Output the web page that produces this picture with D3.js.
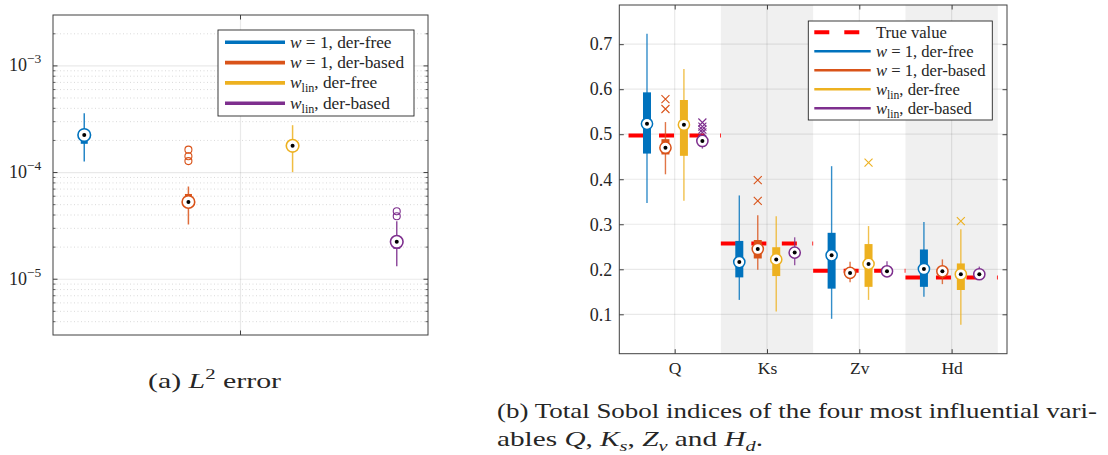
<!DOCTYPE html>
<html>
<head>
<meta charset="utf-8">
<script src="https://cdn.jsdelivr.net/npm/d3@7"></script>
<style>
  body { margin: 0; background: #fff; }
  svg { display: block; }
  text { font-family: "Liberation Serif", "DejaVu Serif", serif; fill: #262626; }
</style>
</head>
<body>
<svg id="fig" width="1108" height="455"></svg>
<script>
// ---- series (shared by both panels) ----
const seriesColors = ["#0072BD", "#D95319", "#EDB120", "#7E2F8E"];
const groupOffsets = [-0.3, -0.1, 0.1, 0.3];

// ---- panel (a): L2 error, one box per series ----
const l2Low    = [1.27e-4, 3.26e-5, 1.01e-4, 1.32e-5];
const l2Q1     = [1.86e-4, 4.9e-5, 1.62e-4, 1.93e-5];
const l2Median = [2.25e-4, 5.3e-5, 1.78e-4, 2.24e-5];
const l2Q3     = [2.35e-4, 6.3e-5, 2.02e-4, 2.5e-5];
const l2High   = [3.6e-4, 7.4e-5, 2.78e-4, 3.5e-5];
const l2Outliers = [[], [1.28e-4, 1.42e-4, 1.64e-4], [], [3.89e-5, 4.34e-5]];
const l2TickExponents = [-5, -4, -3];

// ---- panel (b): total Sobol indices, rows = series, columns = variables ----
const categories = ["Q", "Ks", "Zv", "Hd"];
const trueValues = [0.497, 0.257, 0.197, 0.182];
const sobolLow = [
  [0.347, 0.132, 0.090, 0.139],
  [0.411, 0.199, 0.171, 0.167],
  [0.352, 0.106, 0.132, 0.077],
  [0.468, 0.209, 0.185, 0.180]
];
const sobolQ1 = [
  [0.457, 0.182, 0.157, 0.161],
  [0.455, 0.224, 0.186, 0.186],
  [0.452, 0.185, 0.161, 0.154],
  [0.478, 0.230, 0.190, 0.184]
];
const sobolMedian = [
  [0.523, 0.216, 0.231, 0.2006],
  [0.470, 0.245, 0.192, 0.1955],
  [0.521, 0.222, 0.212, 0.189],
  [0.485, 0.237, 0.1955, 0.189]
];
const sobolQ3 = [
  [0.593, 0.263, 0.281, 0.244],
  [0.489, 0.265, 0.198, 0.203],
  [0.576, 0.249, 0.256, 0.213],
  [0.492, 0.247, 0.201, 0.195]
];
const sobolHigh = [
  [0.723, 0.364, 0.429, 0.305],
  [0.527, 0.320, 0.217, 0.222],
  [0.645, 0.318, 0.296, 0.289],
  [0.497, 0.271, 0.218, 0.206]
];
const sobolOutliers = [
  [[], [], [], []],
  [[0.556, 0.578], [0.352, 0.398], [], []],
  [[], [], [0.437], [0.307]],
  [[0.504, 0.510, 0.517, 0.526], [], [], []]
];
const sobolTicks = [0.1, 0.2, 0.3, 0.4, 0.5, 0.6, 0.7];

const svg = d3.select("#fig");
const axisColor = "#404040";
const gridColor = "#262626";

// ================= panel (a) =================
const xa = d3.scaleLinear().domain([0.64, 1.36]).range([53, 428]);
const ya = d3.scaleLog().domain([3e-6, 3e-3]).range([335, 15]);
const ga = svg.append("g");

// minor grid (dotted) and major grid
const minorVals = [];
for (let e = -6; e <= -3; e++) for (let m = 2; m <= 9; m++) {
  const v = m * Math.pow(10, e);
  if (v > 3e-6 && v < 3e-3) minorVals.push(v);
}
ga.selectAll(".mg").data(minorVals).join("line")
  .attr("x1", 53).attr("x2", 428)
  .attr("y1", d => ya(d)).attr("y2", d => ya(d))
  .attr("stroke", gridColor).attr("stroke-opacity", 0.22)
  .attr("stroke-width", 0.8).attr("stroke-dasharray", "1 2.5");
ga.selectAll(".Mg").data(l2TickExponents).join("line")
  .attr("x1", 53).attr("x2", 428)
  .attr("y1", d => ya(Math.pow(10, d))).attr("y2", d => ya(Math.pow(10, d)))
  .attr("stroke", gridColor).attr("stroke-opacity", 0.1).attr("stroke-width", 1.2);
ga.append("line").attr("x1", xa(1)).attr("x2", xa(1)).attr("y1", 15).attr("y2", 335)
  .attr("stroke", gridColor).attr("stroke-opacity", 0.1).attr("stroke-width", 1.2);

// boxes
seriesColors.forEach((c, i) => {
  const x = xa(1 + groupOffsets[i]);
  const g = ga.append("g");
  g.append("line").attr("x1", x).attr("x2", x)
    .attr("y1", ya(l2Low[i])).attr("y2", ya(l2High[i]))
    .attr("stroke", c).attr("stroke-width", 1.5).attr("stroke-opacity", 0.85);
  g.append("rect").attr("x", x - 3.5).attr("width", 7)
    .attr("y", ya(l2Q3[i])).attr("height", ya(l2Q1[i]) - ya(l2Q3[i]))
    .attr("fill", c);
  g.selectAll("circle.o").data(l2Outliers[i]).join("circle")
    .attr("cx", x).attr("cy", d => ya(d)).attr("r", 3.5)
    .attr("fill", "none").attr("stroke", c).attr("stroke-width", 1.1);
  g.append("circle").attr("cx", x).attr("cy", ya(l2Median[i])).attr("r", 6.3)
    .attr("fill", "#fff").attr("stroke", c).attr("stroke-width", 1.6);
  g.append("circle").attr("cx", x).attr("cy", ya(l2Median[i])).attr("r", 2)
    .attr("fill", "#000");
});

// axes frame and ticks
ga.append("rect").attr("x", 53).attr("y", 15).attr("width", 375).attr("height", 320)
  .attr("fill", "none").attr("stroke", axisColor).attr("stroke-width", 1);
const majorVals = l2TickExponents.map(e => Math.pow(10, e));
[[53, 1], [428, -1]].forEach(([x0, dir]) => {
  ga.selectAll(null).data(majorVals).join("line")
    .attr("x1", x0).attr("x2", x0 + dir * 4.5)
    .attr("y1", d => ya(d)).attr("y2", d => ya(d))
    .attr("stroke", axisColor);
  ga.selectAll(null).data(minorVals).join("line")
    .attr("x1", x0).attr("x2", x0 + dir * 2.5)
    .attr("y1", d => ya(d)).attr("y2", d => ya(d))
    .attr("stroke", axisColor).attr("stroke-width", 0.8);
});
[[335, -1], [15, 1]].forEach(([y0, dir]) => {
  ga.append("line").attr("x1", xa(1)).attr("x2", xa(1))
    .attr("y1", y0).attr("y2", y0 + dir * 4.5).attr("stroke", axisColor);
});
// tick labels 10^e
const ta = ga.selectAll(".tl").data(l2TickExponents).join("text")
  .attr("x", 9).attr("y", d => ya(Math.pow(10, d)) + 5.5)
  .attr("font-size", 18);
ta.append("tspan").text("10");
ta.append("tspan").attr("dy", -8).attr("font-size", 13.5).text(d => "\u2212" + Math.abs(d));

// legend (a)
const legA = ga.append("g");
legA.append("rect").attr("x", 218).attr("y", 30).attr("width", 196).attr("height", 86)
  .attr("fill", "#fff").attr("stroke", "#262626").attr("stroke-width", 0.9);
const legendParts = [
  ["w", null, " = 1, der-free"],
  ["w", null, " = 1, der-based"],
  ["w", "lin", ", der-free"],
  ["w", "lin", ", der-based"]
];
function legendLabel(sel, part, fs) {
  sel.append("tspan").attr("font-style", "italic").text(part[0]);
  if (part[1]) {
    sel.append("tspan").attr("dy", 4).attr("font-size", fs * 0.7).text(part[1]);
    sel.append("tspan").attr("dy", -4).text(part[2]);
  } else {
    sel.append("tspan").text(part[2]);
  }
}
seriesColors.forEach((c, i) => {
  const y = 42.3 + i * 20.3;
  legA.append("line").attr("x1", 225).attr("x2", 285).attr("y1", y).attr("y2", y)
    .attr("stroke", c).attr("stroke-width", 3.6);
  const t = legA.append("text").attr("x", 290).attr("y", y + 5.5).attr("font-size", 17.3);
  legendLabel(t, legendParts[i], 17.3);
});

// caption (a)
const capA = svg.append("text").attr("x", 148).attr("y", 388).attr("font-size", 21.5)
  .attr("textLength", 133).attr("lengthAdjust", "spacingAndGlyphs");
capA.append("tspan").text("(a) ");
capA.append("tspan").attr("font-style", "italic").text("L");
capA.append("tspan").attr("dy", -9).attr("font-size", 15).text("2");
capA.append("tspan").attr("dy", 9).text(" error");

// ================= panel (b) =================
const xb = d3.scaleLinear().domain([0.4, 4.6]).range([619.3, 1007]);
const yb = d3.scaleLinear().domain([0.0125, 0.787]).range([353.7, 5]);
const gb = svg.append("g");

// alternating shaded bands behind Ks and Hd
gb.selectAll(".band").data([2, 4]).join("rect")
  .attr("x", d => xb(d - 0.5)).attr("width", d => xb(d + 0.5) - xb(d - 0.5))
  .attr("y", 5).attr("height", 353.7 - 5).attr("fill", "#f0f0f0");

// grid
gb.selectAll(".hg").data(sobolTicks).join("line")
  .attr("x1", 619.3).attr("x2", 1007).attr("y1", d => yb(d)).attr("y2", d => yb(d))
  .attr("stroke", gridColor).attr("stroke-opacity", 0.1).attr("stroke-width", 1.2);
gb.selectAll(".vg").data(categories).join("line")
  .attr("x1", (d, i) => xb(i + 1)).attr("x2", (d, i) => xb(i + 1))
  .attr("y1", 5).attr("y2", 353.7)
  .attr("stroke", gridColor).attr("stroke-opacity", 0.1).attr("stroke-width", 1.2);

// true values (dashed red)
gb.selectAll(".tv").data(trueValues).join("line")
  .attr("x1", (d, i) => xb(i + 0.5)).attr("x2", (d, i) => xb(i + 1.5))
  .attr("y1", d => yb(d)).attr("y2", d => yb(d))
  .attr("stroke", "#FF0000").attr("stroke-width", 4).attr("stroke-dasharray", "15 15.5");

// boxes
seriesColors.forEach((c, s) => {
  categories.forEach((cat, k) => {
    const x = xb(k + 1 + groupOffsets[s]);
    const g = gb.append("g");
    g.append("line").attr("x1", x).attr("x2", x)
      .attr("y1", yb(sobolLow[s][k])).attr("y2", yb(sobolHigh[s][k]))
      .attr("stroke", c).attr("stroke-width", 1.4).attr("stroke-opacity", 0.8);
    g.append("rect").attr("x", x - 4).attr("width", 8)
      .attr("y", yb(sobolQ3[s][k])).attr("height", yb(sobolQ1[s][k]) - yb(sobolQ3[s][k]))
      .attr("fill", c);
    g.selectAll("path.x").data(sobolOutliers[s][k]).join("path")
      .attr("d", d => {
        const y = yb(d), h = 4;
        return `M${x - h},${y - h}L${x + h},${y + h}M${x - h},${y + h}L${x + h},${y - h}`;
      })
      .attr("stroke", c).attr("stroke-width", 1.1).attr("fill", "none");
    g.append("circle").attr("cx", x).attr("cy", yb(sobolMedian[s][k])).attr("r", 5.6)
      .attr("fill", "#fff").attr("stroke", c).attr("stroke-width", 1.5);
    g.append("circle").attr("cx", x).attr("cy", yb(sobolMedian[s][k])).attr("r", 2)
      .attr("fill", "#000");
  });
});

// frame, ticks, labels
gb.append("rect").attr("x", 619.3).attr("y", 5).attr("width", 1007 - 619.3).attr("height", 353.7 - 5)
  .attr("fill", "none").attr("stroke", axisColor).attr("stroke-width", 1);
const yAxisB = d3.axisLeft(yb).tickValues(sobolTicks).tickSize(-4.5).tickPadding(7)
  .tickFormat(d3.format(".1f"));
const yAxG = gb.append("g").attr("transform", "translate(619.3,0)").call(yAxisB);
yAxG.select(".domain").remove();
yAxG.selectAll("line").attr("stroke", axisColor);
yAxG.selectAll("text").attr("font-size", 18).attr("font-family", null).attr("fill", "#262626");
const yAxR = gb.append("g").attr("transform", "translate(1007,0)")
  .call(d3.axisRight(yb).tickValues(sobolTicks).tickSize(-4.5).tickFormat(""));
yAxR.select(".domain").remove();
yAxR.selectAll("line").attr("stroke", axisColor);

const xAxisB = d3.axisBottom(xb).tickValues([1, 2, 3, 4]).tickSize(-4.5).tickPadding(8)
  .tickFormat(d => categories[d - 1]);
const xAxG = gb.append("g").attr("transform", "translate(0,353.7)").call(xAxisB);
xAxG.select(".domain").remove();
xAxG.selectAll("line").attr("stroke", axisColor);
xAxG.selectAll("text").attr("font-size", 17.5).attr("font-family", null).attr("fill", "#262626");
const xAxT = gb.append("g").attr("transform", "translate(0,5)")
  .call(d3.axisTop(xb).tickValues([1, 2, 3, 4]).tickSize(-4.5).tickFormat(""));
xAxT.select(".domain").remove();
xAxT.selectAll("line").attr("stroke", axisColor);

// legend (b)
const legB = gb.append("g");
legB.append("rect").attr("x", 808.3).attr("y", 21).attr("width", 184).attr("height", 99)
  .attr("fill", "#fff").attr("stroke", "#262626").attr("stroke-width", 0.9);
legB.append("line").attr("x1", 814.3).attr("x2", 870.7).attr("y1", 32.3).attr("y2", 32.3)
  .attr("stroke", "#FF0000").attr("stroke-width", 4).attr("stroke-dasharray", "15 15");
legB.append("text").attr("x", 876).attr("y", 37.8).attr("font-size", 16.6).text("True value");
seriesColors.forEach((c, i) => {
  const y = 51.3 + i * 19;
  legB.append("line").attr("x1", 814.3).attr("x2", 870.7).attr("y1", y).attr("y2", y)
    .attr("stroke", c).attr("stroke-width", 2.6);
  const t = legB.append("text").attr("x", 876).attr("y", y + 5.5).attr("font-size", 16.6);
  legendLabel(t, legendParts[i], 16.6);
});

// caption (b)
svg.append("text").attr("x", 497).attr("y", 418).attr("font-size", 21.5)
  .attr("textLength", 600).attr("lengthAdjust", "spacingAndGlyphs")
  .text("(b) Total Sobol indices of the four most influential vari-");
const capB = svg.append("text").attr("x", 497).attr("y", 446).attr("font-size", 21.5)
  .attr("textLength", 266).attr("lengthAdjust", "spacingAndGlyphs");
capB.append("tspan").text("ables ");
const capVars = [["Q", null], ["K", "s"], ["Z", "v"], ["H", "d"]];
const capSeps = [", ", ", ", " and ", "."];
capVars.forEach(([v, sub], i) => {
  capB.append("tspan").attr("font-style", "italic").text(v);
  if (sub) {
    capB.append("tspan").attr("dy", 5).attr("font-size", 15).attr("font-style", "italic").text(sub);
    capB.append("tspan").attr("dy", -5).text(capSeps[i]);
  } else {
    capB.append("tspan").text(capSeps[i]);
  }
});
</script>
</body>
</html>
